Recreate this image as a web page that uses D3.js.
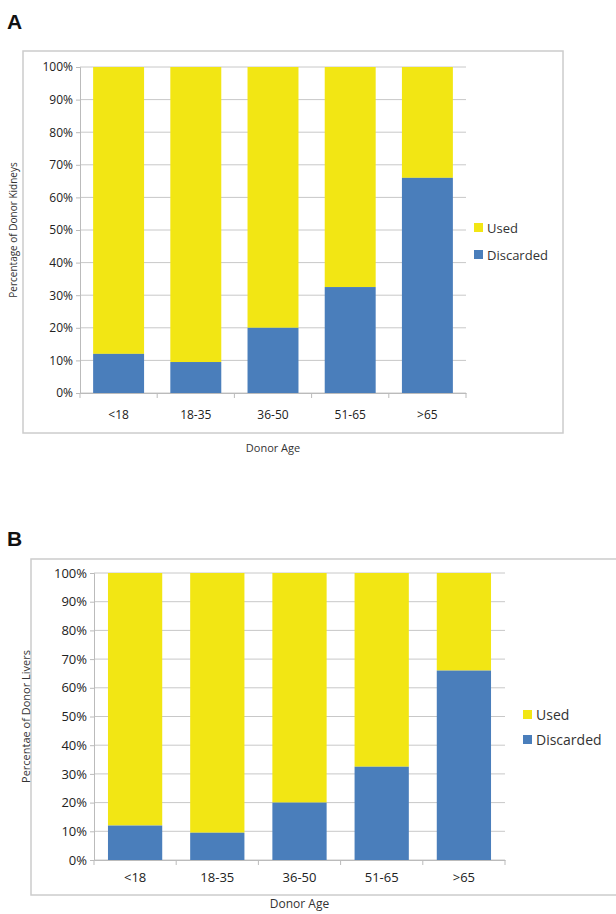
<!DOCTYPE html>
<html><head><meta charset="utf-8">
<script src="https://cdn.jsdelivr.net/npm/d3@7"></script>
<style>body{margin:0;background:#fff}text{font-family:"Open Sans",sans-serif;fill:#333}</style>
</head><body>
<script>
var ages = ["<18", "18-35", "36-50", "51-65", ">65"];
var kidneyDiscarded = [12, 9.5, 20, 32.5, 66];
var liverDiscarded = [12, 9.5, 20, 32.5, 66];
var yTicks = [0, 10, 20, 30, 40, 50, 60, 70, 80, 90, 100];
var legendLabels = ["Used", "Discarded"];

var YELLOW = "#f2e614", BLUE = "#4a7ebb";

var svg = d3.select("body").append("svg").attr("width", 616).attr("height", 914);

function drawPanel(p) {
    var g = svg.append("g");
    g.append("text").attr("x", 7).attr("y", p.letterY).attr("font-size", 21).attr("font-weight", "bold")
        .style("fill", "#111").style("font-family", "Liberation Sans").text(p.letter);
    g.append("rect").attr("x", p.frame[0]).attr("y", p.frame[1]).attr("width", p.frame[2]).attr("height", p.frame[3])
        .attr("fill", "none").attr("stroke", "#ccc").attr("stroke-width", 1.5);

    var x = d3.scaleBand().domain(ages).range([p.left, p.right]).paddingInner(0.34).paddingOuter(0.17);
    var y = d3.scaleLinear().domain([0, 100]).range([p.bottom, p.top]);

    // gridlines
    g.selectAll(".grid").data(yTicks).enter().append("line")
        .attr("x1", p.left).attr("x2", p.right).attr("y1", d => y(d)).attr("y2", d => y(d))
        .attr("stroke", "#c8c8c8").attr("stroke-width", 1);

    var yAxis = g.append("g").attr("transform", "translate(" + p.left + ",0)")
        .call(d3.axisLeft(y).tickValues(yTicks).tickFormat(d => d + "%").tickSize(4).tickPadding(3));
    yAxis.selectAll("path,line").attr("stroke", "#bbb");
    yAxis.selectAll("text").attr("font-size", p.fs).style("font-family", "Open Sans").style("fill", "#222");

    var bars = g.selectAll(".bar").data(ages).enter().append("g");
    bars.append("rect").attr("x", d => x(d)).attr("width", x.bandwidth())
        .attr("y", y(100)).attr("height", (d, i) => y(p.discarded[i]) - y(100)).attr("fill", YELLOW);
    bars.append("rect").attr("x", d => x(d)).attr("width", x.bandwidth())
        .attr("y", (d, i) => y(p.discarded[i])).attr("height", (d, i) => y(0) - y(p.discarded[i])).attr("fill", BLUE);

    var xb = d3.scaleBand().domain(ages).range([p.left, p.right]);
    var xAxis = g.append("g").attr("transform", "translate(0," + p.bottom + ")")
        .call(d3.axisBottom(xb).tickSize(0).tickPadding(p.xPad));
    xAxis.select("path").attr("stroke", "#bbb");
    xAxis.selectAll("text").attr("font-size", p.fs).style("font-family", "Open Sans").style("fill", "#222");
    xAxis.selectAll(".sep").data(d3.range(ages.length + 1)).enter().append("line")
        .attr("x1", i => p.left + i * xb.step()).attr("x2", i => p.left + i * xb.step())
        .attr("y1", 0).attr("y2", 5).attr("stroke", "#bbb");

    g.append("text").attr("x", (p.left + p.right) / 2).attr("y", p.titleY).attr("text-anchor", "middle")
        .attr("font-size", p.fs - 1).text("Donor Age");
    g.append("text").attr("transform", "translate(" + p.yTitleX + "," + ((p.top + p.bottom) / 2) + ") rotate(-90)")
        .attr("text-anchor", "middle").attr("font-size", p.fs - 2).text(p.yTitle);

    var leg = g.selectAll(".leg").data(legendLabels).enter().append("g")
        .attr("transform", (d, i) => "translate(" + p.legX + "," + (p.legY + i * p.legGap) + ")");
    leg.append("rect").attr("x", 0).attr("y", -5).attr("width", 9).attr("height", 9)
        .attr("fill", (d, i) => i === 0 ? YELLOW : BLUE);
    leg.append("text").attr("x", 13).attr("y", 0).attr("dy", "0.35em").attr("font-size", p.fs + 1).text(d => d);
}

drawPanel({letter: "A", letterY: 29, frame: [23, 51, 540, 382], left: 80, right: 466, top: 67, bottom: 393,
    discarded: kidneyDiscarded, fs: 12, xPad: 17, titleY: 452, yTitleX: 17, yTitle: "Percentage of Donor Kidneys",
    legX: 474, legY: 228, legGap: 27});
drawPanel({letter: "B", letterY: 546, frame: [31, 559, 600, 336], left: 94, right: 505, top: 573, bottom: 860,
    discarded: liverDiscarded, fs: 13, xPad: 13, titleY: 908, yTitleX: 30, yTitle: "Percentae of Donor Livers",
    legX: 523, legY: 715, legGap: 25});
</script>
</body></html>
